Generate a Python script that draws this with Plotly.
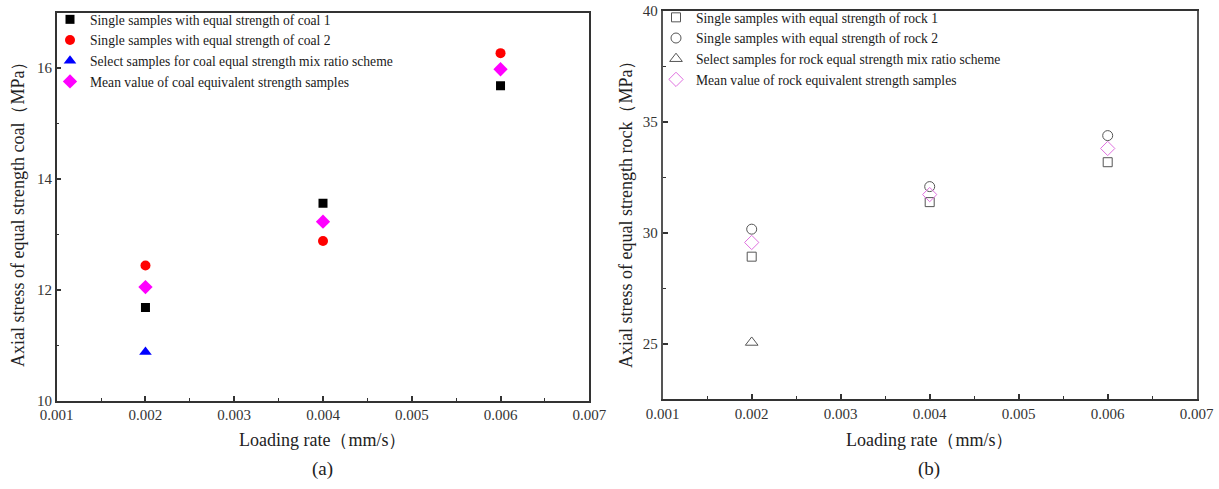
import plotly.graph_objects as go

# ---------------- data ----------------
rates = [0.002, 0.004, 0.006]
coal1 = [11.68, 13.56, 15.68]
coal2 = [12.44, 12.88, 16.27]
coal_select_x = [0.002]
coal_select = [10.88]
coal_mean = [12.05, 13.23, 15.98]

rock1 = [28.92, 31.38, 33.18]
rock2 = [30.16, 32.08, 34.38]
rock_select_x = [0.002]
rock_select = [25.05]
rock_mean = [29.56, 31.72, 33.80]

x_ticks = [0.001, 0.002, 0.003, 0.004, 0.005, 0.006, 0.007]
coal_names = [
    "Single samples with equal strength of coal 1",
    "Single samples with equal strength of coal 2",
    "Select samples for coal equal strength mix ratio scheme",
    "Mean value of coal equivalent strength samples",
]
rock_names = [
    "Single samples with equal strength of rock 1",
    "Single samples with equal strength of rock 2",
    "Select samples for rock equal strength mix ratio scheme",
    "Mean value of rock equivalent strength samples",
]

FONT = "Liberation Serif"
W, H = 1219, 489
AX = "#333333"
GRAY = "#555555"
PINK = "#e070e0"

fig = go.Figure()

# ---- left panel (coal) ----
fig.add_trace(go.Scatter(x=rates, y=coal1, mode="markers", name=coal_names[0],
                         marker=dict(symbol="square", size=9, color="#000000"),
                         xaxis="x", yaxis="y", legend="legend"))
fig.add_trace(go.Scatter(x=rates, y=coal2, mode="markers", name=coal_names[1],
                         marker=dict(symbol="circle", size=10, color="#ff0000"),
                         xaxis="x", yaxis="y", legend="legend"))
fig.add_trace(go.Scatter(x=coal_select_x, y=coal_select, mode="markers", name=coal_names[2],
                         marker=dict(symbol="triangle-up", size=11, color="#0000ff"),
                         xaxis="x", yaxis="y", legend="legend"))
fig.add_trace(go.Scatter(x=rates, y=coal_mean, mode="markers", name=coal_names[3],
                         marker=dict(symbol="diamond", size=11, color="#ff00ff"),
                         xaxis="x", yaxis="y", legend="legend"))

# ---- right panel (rock) ----
fig.add_trace(go.Scatter(x=rates, y=rock1, mode="markers", name=rock_names[0],
                         marker=dict(symbol="square-open", size=9, color=GRAY, line=dict(width=1)),
                         xaxis="x2", yaxis="y2", legend="legend2"))
fig.add_trace(go.Scatter(x=rates, y=rock2, mode="markers", name=rock_names[1],
                         marker=dict(symbol="circle-open", size=10, color=GRAY, line=dict(width=1)),
                         xaxis="x2", yaxis="y2", legend="legend2"))
fig.add_trace(go.Scatter(x=rock_select_x, y=rock_select, mode="markers", name=rock_names[2],
                         marker=dict(symbol="triangle-up-open", size=11, color=GRAY, line=dict(width=1)),
                         xaxis="x2", yaxis="y2", legend="legend2"))
fig.add_trace(go.Scatter(x=rates, y=rock_mean, mode="markers", name=rock_names[3],
                         marker=dict(symbol="diamond-open", size=11, color=PINK, line=dict(width=1)),
                         xaxis="x2", yaxis="y2", legend="legend2"))

def px_x(p):
    return p / W

def px_y(p):
    return (H - p) / H

TICKFONT = dict(family=FONT, size=15, color="#333333")

xcommon = dict(range=[0.001, 0.007], tickmode="array", tickvals=x_ticks,
               ticktext=[f"{v:.3f}" for v in x_ticks],
               ticks="inside", ticklen=5, tickwidth=1.5, tickcolor=AX,
               minor=dict(ticks="inside", ticklen=3, tickwidth=1, tickcolor=AX, dtick=0.0005, tick0=0.001),
               showline=True, linecolor=AX, linewidth=1.5, mirror=True,
               showgrid=False, zeroline=False, automargin=False,
               tickfont=TICKFONT)

fig.update_layout(
    width=W, height=H,
    margin=dict(l=0, r=0, t=0, b=0),
    paper_bgcolor="white", plot_bgcolor="white",
    font=dict(family=FONT, color="#222222"),
    xaxis=dict(domain=[px_x(56.7), px_x(589.3)], anchor="y", **xcommon),
    xaxis2=dict(domain=[px_x(662.7), px_x(1196.7)], anchor="y2", **xcommon),
    yaxis=dict(domain=[px_y(400.7), px_y(12.7)], anchor="x", range=[10, 17],
               tickmode="linear", tick0=10, dtick=2,
               ticks="inside", ticklen=5, tickwidth=1.5, tickcolor=AX,
               minor=dict(ticks="inside", ticklen=3, tickwidth=1, tickcolor=AX, dtick=1, tick0=10),
               showline=True, linecolor=AX, linewidth=1.5, mirror=True,
               showgrid=False, zeroline=False, automargin=False,
               tickfont=TICKFONT),
    yaxis2=dict(domain=[px_y(399), px_y(11)], anchor="x2", range=[22.5, 40],
                tickmode="linear", tick0=25, dtick=5,
                ticks="inside", ticklen=5, tickwidth=1.5, tickcolor=AX,
                minor=dict(ticks="inside", ticklen=3, tickwidth=1, tickcolor=AX, dtick=2.5, tick0=25),
                showline=True, linecolor=GRAY, linewidth=2, mirror=True,
                showgrid=False, zeroline=False, automargin=False,
                tickfont=TICKFONT),
    legend=dict(x=px_x(50), y=px_y(4), xanchor="left", yanchor="top",
                bgcolor="rgba(0,0,0,0)", itemwidth=30, tracegroupgap=0,
                font=dict(family=FONT, size=13.6, color="#1a1a1a")),
    legend2=dict(x=px_x(656), y=px_y(2), xanchor="left", yanchor="top",
                 bgcolor="rgba(0,0,0,0)", itemwidth=30, tracegroupgap=0,
                 font=dict(family=FONT, size=13.6, color="#1a1a1a")),
    showlegend=True,
)

ann_font = dict(family=FONT, size=18, color="#222222")
annotations = [
    dict(text="Axial stress of equal strength coal（MPa）", x=px_x(18), y=px_y(210),
         xref="paper", yref="paper", textangle=-90, showarrow=False, font=ann_font,
         xanchor="center", yanchor="middle"),
    dict(text="Axial stress of equal strength rock（MPa）", x=px_x(626), y=px_y(210),
         xref="paper", yref="paper", textangle=-90, showarrow=False, font=ann_font,
         xanchor="center", yanchor="middle"),
    dict(text="Loading rate（mm/s）", x=px_x(322), y=px_y(440),
         xref="paper", yref="paper", showarrow=False, font=ann_font,
         xanchor="center", yanchor="middle"),
    dict(text="Loading rate（mm/s）", x=px_x(929), y=px_y(440),
         xref="paper", yref="paper", showarrow=False, font=ann_font,
         xanchor="center", yanchor="middle"),
    dict(text="(a)", x=px_x(322), y=px_y(469),
         xref="paper", yref="paper", showarrow=False,
         font=dict(family=FONT, size=19, color="#222222"),
         xanchor="center", yanchor="middle"),
    dict(text="(b)", x=px_x(929), y=px_y(469),
         xref="paper", yref="paper", showarrow=False,
         font=dict(family=FONT, size=19, color="#222222"),
         xanchor="center", yanchor="middle"),
]
fig.update_layout(annotations=annotations)

fig.write_html("out.html")
